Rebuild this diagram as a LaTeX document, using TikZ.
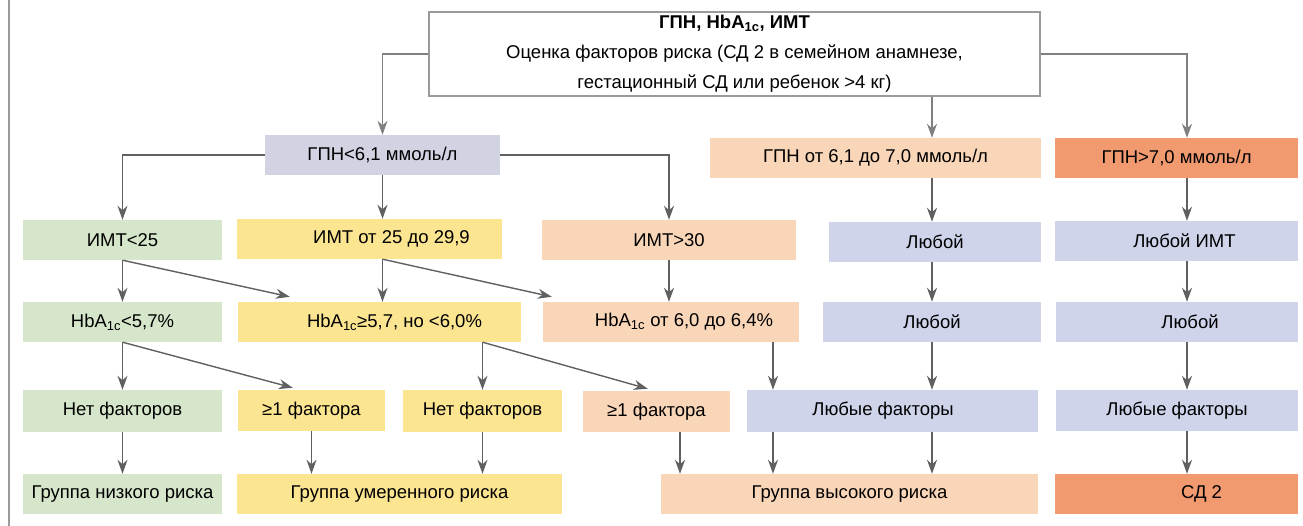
\documentclass[tikz,border=0pt]{standalone}
\usepackage{fontspec}
\setmainfont{Liberation Sans}
\usepackage{tikz}
\usetikzlibrary{arrows.meta}

\definecolor{boxgreen}{HTML}{D5E6CA}
\definecolor{boxyellow}{HTML}{FBE591}
\definecolor{boxpeach}{HTML}{FAD6B8}
\definecolor{boxlilac}{HTML}{CFD4EB}
\definecolor{boxgray}{HTML}{D1D3E3}
\definecolor{boxorange}{HTML}{F19A70}
\definecolor{arrgray}{HTML}{606060}
\definecolor{topgray}{HTML}{808080}
\definecolor{framegray}{HTML}{9A9A9A}

\newcommand{\hba}{HbA\textsubscript{1c}}

\begin{document}
\begin{tikzpicture}[x=1pt, y=-1pt, font=\fontsize{18.5}{22}\selectfont]
    \tikzstyle{cell} = [rectangle, inner sep=0pt, minimum height=40pt]
    \tikzstyle{lowc} = [cell, fill=boxgreen]
    \tikzstyle{midc} = [cell, fill=boxyellow]
    \tikzstyle{highc} = [cell, fill=boxpeach]
    \tikzstyle{anyc} = [cell, fill=boxlilac]
    \tikzstyle{sdc} = [cell, fill=boxorange]
    \tikzstyle{arr} = [draw=arrgray, line width=1.4pt, -{Stealth[length=14pt, width=10pt, inset=4.5pt]}]
    \tikzstyle{toparr} = [arr, draw=topgray, line width=1.2pt]

    \useasboundingbox (0,0) rectangle (1303,526);
    \draw[framegray, line width=1.2pt] (9,0) -- (9,526);

    % Columns of the arrows
    \coordinate (colA) at (932,0);
    \coordinate (colB) at (773,0);
    \coordinate (colC) at (680,0);
    \coordinate (colD) at (1187,0);

    % Top box
    \node[cell, draw=framegray, fill=white, line width=1.2pt, minimum width=611pt, minimum height=84pt,
          align=center, font=\fontsize{18.5}{30}\selectfont] (top) at (734.5,54)
        {\textbf{ГПН, \hba, ИМТ}\\ Оценка факторов риска (СД 2 в семейном анамнезе,\\ гестационный СД или ребенок >4 кг)};

    % Glucose
    \node[cell, fill=boxgray, minimum width=235pt] (gpnLow) at (382.5,155) {ГПН<6,1 ммоль/л};
    \node[highc, minimum width=331pt] (gpnMid) at (875.5,158) {ГПН от 6,1 до 7,0 ммоль/л};
    \node[sdc, minimum width=243pt] (gpnHigh) at (1176.5,158) {ГПН>7,0 ммоль/л};

    % Body mass index
    \node[lowc, minimum width=199pt] (bmiLow) at (122.5,240) {ИМТ<25};
    \node[midc, minimum width=265pt] (bmiMid) at (369.5,239) {\hspace*{44pt}ИМТ от 25 до 29,9};
    \node[highc, minimum width=254pt] (bmiHigh) at (669,240) {ИМТ>30};
    \node[anyc, minimum width=212pt] (anyA) at (935,242) {Любой};
    \node[anyc, minimum width=243pt] (anyBmi) at (1176.5,241) {\hspace*{16pt}Любой ИМТ};

    % HbA1c
    \node[lowc, minimum width=199pt] (hbaLow) at (122.5,322) {\hba<5,7\%};
    \node[midc, minimum width=283pt] (hbaMid) at (379.5,322) {\hspace*{30pt}\hba≥5,7, но <6,0\%};
    \node[highc, minimum width=256pt] (hbaHigh) at (671,322) {\hspace*{26pt}\hba{} от 6,0 до 6,4\%};
    \node[anyc, minimum width=218pt] (anyB) at (932,322) {Любой};
    \node[anyc, minimum width=242pt] (anyC) at (1177,322) {\hspace*{26pt}Любой};

    % Risk factors
    \node[lowc, minimum width=199pt, minimum height=42pt] (noLow) at (122.5,411) {Нет факторов};
    \node[midc, minimum width=147pt, minimum height=41pt] (oneMid) at (311.5,410.5) {≥1 фактора};
    \node[midc, minimum width=159pt, minimum height=42pt] (noMid) at (482.5,411) {Нет факторов};
    \node[highc, minimum width=147pt, minimum height=41pt] (oneHigh) at (656.5,411.5) {≥1 фактора};
    \node[anyc, minimum width=291pt, minimum height=42pt] (anyF) at (892.5,411) {Любые факторы\hspace*{19pt}};
    \node[anyc, minimum width=242pt, minimum height=41pt] (anyF2) at (1177,410.5) {Любые факторы};

    % Groups
    \node[lowc, minimum width=199pt] (grpLow) at (122.5,494) {Группа низкого риска};
    \node[midc, minimum width=325pt] (grpMid) at (399.5,494) {Группа умеренного риска};
    \node[highc, minimum width=377pt] (grpHigh) at (849.5,494) {Группа высокого риска};
    \node[sdc, minimum width=243pt] (sd) at (1176.5,494) {\hspace*{50pt}СД 2};

    % From the top box
    \draw[toparr] (top.west) -| (gpnLow.north);
    \draw[toparr] (top.south -| colA) -- (gpnMid.north -| colA);
    \draw[toparr] (top.east) -| (gpnHigh.north -| colD);

    % From the glucose boxes
    \draw[arr] (gpnLow.west) -| (bmiLow.north);
    \draw[arr] (gpnLow.south) -- (gpnLow.south |- bmiMid.north);
    \draw[arr] (gpnLow.east) -| (bmiHigh.north);
    \draw[arr] (gpnMid.south -| colA) -- (anyA.north -| colA);
    \draw[arr] (gpnHigh.south -| colD) -- (anyBmi.north -| colD);

    % From the BMI boxes
    \draw[arr] (bmiLow.south) -- (hbaLow.north);
    \draw[arr] (bmiLow.south) -- ([xshift=52pt, yshift=5pt]hbaMid.north west);
    \draw[arr] (gpnLow.south |- bmiMid.south) -- (gpnLow.south |- hbaMid.north);
    \draw[arr] (gpnLow.south |- bmiMid.south) -- ([xshift=9pt, yshift=5pt]hbaHigh.north west);
    \draw[arr] (bmiHigh.south) -- (bmiHigh.south |- hbaHigh.north);
    \draw[arr] (anyA.south -| colA) -- (anyB.north -| colA);
    \draw[arr] (anyBmi.south -| colD) -- (anyC.north -| colD);

    % From the HbA1c boxes
    \draw[arr] (hbaLow.south) -- (noLow.north);
    \draw[arr] (hbaLow.south) -- ([xshift=55pt, yshift=2pt]oneMid.north west);
    \draw[arr] (hbaMid.south -| noMid.north) -- (noMid.north);
    \draw[arr] (hbaMid.south -| noMid.north) -- ([xshift=65pt, yshift=2pt]oneHigh.north west);
    \draw[arr] (hbaHigh.south -| colB) -- (anyF.north -| colB);
    \draw[arr] (anyB.south -| colA) -- (anyF.north -| colA);
    \draw[arr] (anyC.south -| colD) -- (anyF2.north -| colD);

    % To the groups
    \draw[arr] (noLow.south) -- (grpLow.north);
    \draw[arr] (oneMid.south) -- (oneMid.south |- grpMid.north);
    \draw[arr] (noMid.south) -- (noMid.south |- grpMid.north);
    \draw[arr] (oneHigh.south -| colC) -- (grpHigh.north -| colC);
    \draw[arr] (anyF.south -| colB) -- (grpHigh.north -| colB);
    \draw[arr] (anyF.south -| colA) -- (grpHigh.north -| colA);
    \draw[arr] (anyF2.south -| colD) -- (sd.north -| colD);

\end{tikzpicture}
\end{document}
